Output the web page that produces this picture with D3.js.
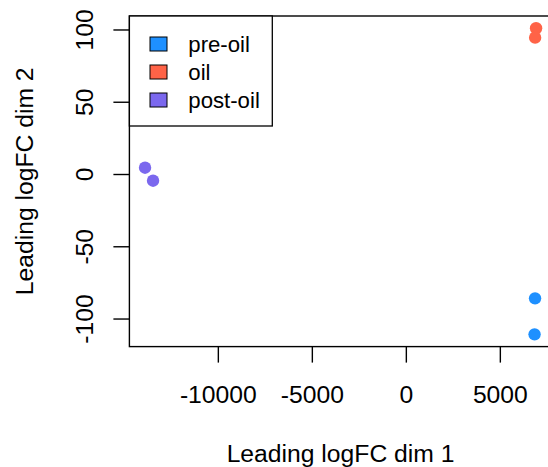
<!DOCTYPE html>
<html><head><meta charset="utf-8">
<script src="https://cdn.jsdelivr.net/npm/d3@7"></script>
<style>body{margin:0;background:#fff}svg{display:block}text{font-family:"Liberation Sans",Arial,sans-serif;fill:#000}</style>
</head><body><svg id="c" width="548" height="467"></svg>
<script>
const groups = ["pre-oil","oil","post-oil"];
const colors = ["#1E90FF","#FF6347","#7B68EE"];
const sampleGroup = ["pre-oil","pre-oil","oil","oil","post-oil","post-oil"];
const dim1 = [6846, 6820, 6900, 6850, -13899, -13473];
const dim2 = [-85.7, -110.6, 101.2, 94.7, 4.7, -4.3];
const xTicks = [-10000,-5000,0,5000];
const yTicks = [-100,-50,0,50,100];

const svg = d3.select("#c");
const L=129.4, R=551.7, T=16.0, B=346.6;
function ext(a){const mn=d3.min(a),mx=d3.max(a),d=(mx-mn)*0.04;return [mn-d,mx+d];}
const x = d3.scaleLinear().domain(ext(dim1)).range([L,R]);
const y = d3.scaleLinear().domain(ext(dim2)).range([B,T]);
const color = d3.scaleOrdinal().domain(groups).range(colors);

// points
svg.append("g").selectAll("circle").data(dim1.map((d,i)=>({x:d,y:dim2[i],g:sampleGroup[i]})))
  .enter().append("circle").attr("cx",d=>x(d.x)).attr("cy",d=>y(d.y)).attr("r",6.2)
  .attr("fill",d=>color(d.g));

// frame
svg.append("rect").attr("x",L).attr("y",T).attr("width",R-L).attr("height",B-T)
  .attr("fill","none").attr("stroke","#000").attr("stroke-width",1.4);

// x axis
const xa = svg.append("g");
xTicks.forEach(t=>{
  xa.append("line").attr("x1",x(t)).attr("x2",x(t)).attr("y1",B).attr("y2",B+16).attr("stroke","#000").attr("stroke-width",1.4);
  xa.append("text").attr("x",x(t)).attr("y",403).attr("text-anchor","middle").attr("font-size",24.7).text(t);
});
// y axis
const ya = svg.append("g");
yTicks.forEach(t=>{
  ya.append("line").attr("x1",L-16).attr("x2",L).attr("y1",y(t)).attr("y2",y(t)).attr("stroke","#000").attr("stroke-width",1.4);
  ya.append("text").attr("transform",`translate(92.5,${y(t)}) rotate(-90)`).attr("text-anchor","middle").attr("font-size",24.7).text(t);
});
// titles
svg.append("text").attr("x",(L+R)/2).attr("y",462).attr("text-anchor","middle").attr("font-size",24.7).text("Leading logFC dim 1");
svg.append("text").attr("transform",`translate(32.5,${(T+B)/2}) rotate(-90)`).attr("text-anchor","middle").attr("font-size",24.7).text("Leading logFC dim 2");

// legend
const lg = svg.append("g");
lg.append("rect").attr("x",L).attr("y",T).attr("width",272.3-L).attr("height",126-T).attr("fill","#fff").attr("stroke","#000").attr("stroke-width",1.3);
groups.forEach((g,i)=>{
  const cy = 44 + i*28;
  lg.append("rect").attr("x",150).attr("y",cy-7).attr("width",17).attr("height",14).attr("fill",color(g)).attr("stroke","#000").attr("stroke-width",1);
  lg.append("text").attr("x",188.3).attr("y",cy+8).attr("font-size",22.2).text(g);
});
</script></body></html>
